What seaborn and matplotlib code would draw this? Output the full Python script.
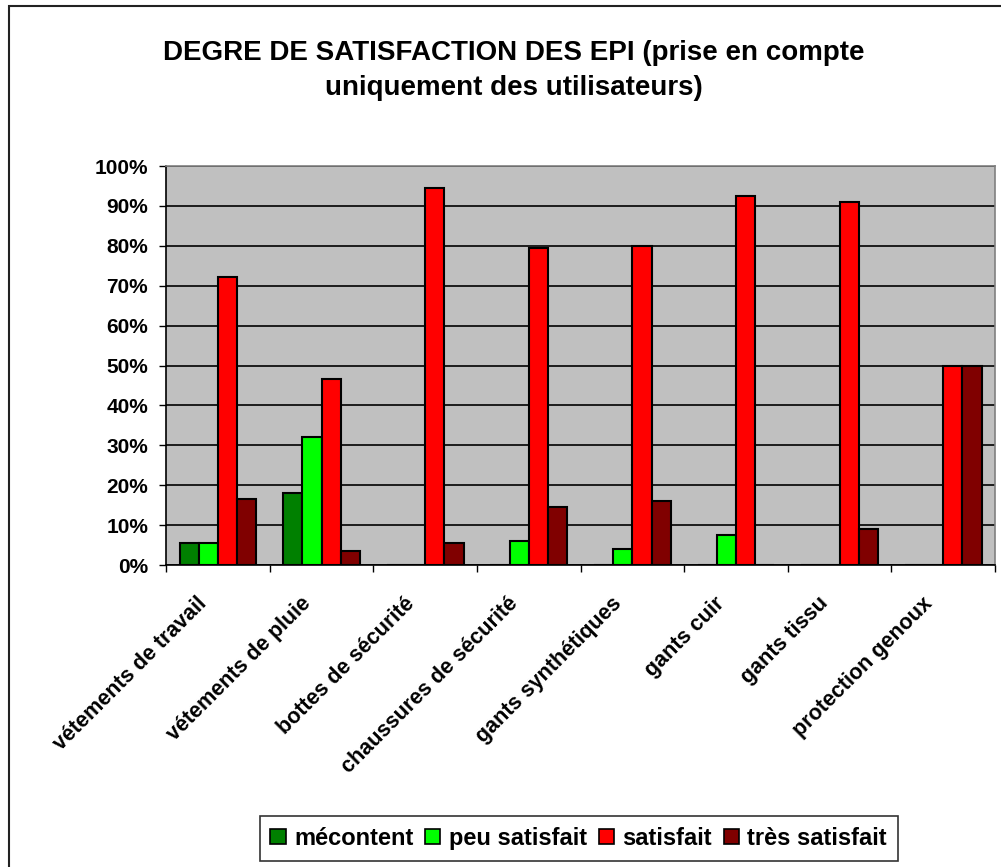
import seaborn as sns
import matplotlib.pyplot as plt
import matplotlib.patches as mpatches
import matplotlib.transforms as mtransforms
import pandas as pd

# Categories and series values (percent)
categories = ['vétements de travail', 'vétements de pluie', 'bottes de sécurité',
              'chaussures de sécurité', 'gants synthétiques', 'gants cuir',
              'gants tissu', 'protection genoux']
series = ['mécontent', 'peu satisfait', 'satisfait', 'très satisfait']
mecontent = [5.4, 18.0, 0, 0, 0, 0, 0, 0]
peu_satisfait = [5.4, 32.0, 0, 6.0, 4.0, 7.4, 0, 0]
satisfait = [72.1, 46.5, 94.5, 79.5, 80.0, 92.5, 91.1, 50.0]
tres_satisfait = [16.5, 3.5, 5.4, 14.5, 16.0, 0, 9.1, 50.0]
colors = ['#008000', '#00FF00', '#FF0000', '#800000']
yticks = list(range(0, 101, 10))

# Build long-form table
rows = []
for name, vals in zip(series, [mecontent, peu_satisfait, satisfait, tres_satisfait]):
    for cat, v in zip(categories, vals):
        rows.append({'cat': cat, 'serie': name, 'val': v})
df = pd.DataFrame(rows)

plt.rcParams['font.family'] = ['Liberation Sans', 'DejaVu Sans']
plt.rcParams['font.weight'] = 'bold'

fig = plt.figure(figsize=(10.01, 8.67), dpi=100)
ax = fig.add_axes([0.166, 0.3483, 0.828, 0.4602])

sns.barplot(data=df, x='cat', y='val', hue='serie', hue_order=series,
            palette=colors, width=0.74, saturation=1, edgecolor='black',
            linewidth=1.5, ax=ax, zorder=3)

ax.set_facecolor('#C0C0C0')
ax.set_xlim(-0.5, len(categories) - 0.5)
ax.set_ylim(0, 100)
ax.set_yticks(yticks)
ax.set_yticklabels([f'{t}%' for t in yticks], fontsize=15, fontweight='bold')
ax.yaxis.grid(True, color='black', linewidth=1.2, zorder=0)
ax.set_axisbelow(True)
ax.tick_params(axis='y', direction='out', length=5, width=1, pad=8)
ax.set_xlabel('')
ax.set_ylabel('')

# x ticks at category boundaries, labels at centres
ax.set_xticks(range(len(categories)))
ax.set_xticklabels(categories, fontsize=15.5, fontweight='bold', rotation=45,
                   ha='right', va='center', rotation_mode='anchor')
ax.set_xticks([i - 0.5 for i in range(len(categories) + 1)], minor=True)
ax.tick_params(axis='x', which='major', length=0, pad=25.5)
ax.tick_params(axis='x', which='minor', direction='out', length=5, width=1)
offset = mtransforms.ScaledTranslation(-14 / 100, 0, fig.dpi_scale_trans)
for lab in ax.get_xticklabels():
    lab.set_transform(lab.get_transform() + offset)

for side in ['left', 'bottom']:
    ax.spines[side].set_color('black')
    ax.spines[side].set_linewidth(1.2)
for side in ['top', 'right']:
    ax.spines[side].set_color('#808080')
    ax.spines[side].set_linewidth(1.2)

# Legend at the bottom
handles = [mpatches.Patch(facecolor=c, edgecolor='black', linewidth=1.2) for c in colors]
ax.get_legend().remove()
leg = fig.legend(handles, series, loc='center', bbox_to_anchor=(0.578, 0.033),
                 ncol=4, frameon=True, fancybox=False, edgecolor='black',
                 handlelength=0.65, handleheight=0.65, handletextpad=0.35,
                 columnspacing=0.5, borderpad=0.45,
                 prop={'size': 17, 'weight': 'bold'})
leg.get_frame().set_linewidth(1.2)

# Title
fig.text(0.513, 0.919, 'DEGRE DE SATISFACTION DES EPI (prise en compte\nuniquement des utilisateurs)',
         ha='center', va='center', fontsize=20, fontweight='bold', linespacing=1.45)

# Chart frame
fig.patches.append(mpatches.Rectangle((9 / 1001, -0.05), 1.1, 1.05 - 6 / 867,
                                      transform=fig.transFigure, fill=False,
                                      edgecolor='#222222', linewidth=1.5))

fig.savefig('out.png', dpi=100)
